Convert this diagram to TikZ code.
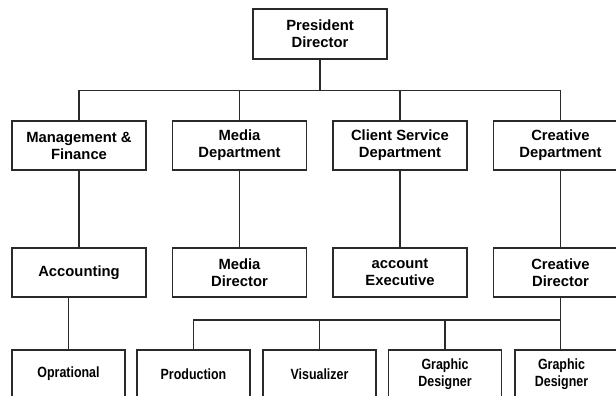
\documentclass[tikz,border=0pt]{standalone}
\usepackage{fontspec}
\setmainfont{Liberation Sans}
\newfontfamily\narrowsans[FakeStretch=0.84]{Liberation Sans}
\usetikzlibrary{positioning}
\definecolor{orgline}{HTML}{2A2A2A}

\begin{document}
\begin{tikzpicture}[x=1pt, y=-1pt,
  unit/.style={draw=orgline,line width=1.6pt,fill=white,minimum width=134pt,minimum height=49pt,align=center,inner sep=2pt,font=\fontsize{14.8}{17}\selectfont\bfseries},
  staff/.style={unit,minimum width=113pt,minimum height=48pt,font=\narrowsans\fontsize{14.8}{17.5}\selectfont\bfseries},
  link/.style={draw=orgline,line width=1.6pt}
]
\useasboundingbox (0,0) rectangle (616,396);
\clip (0,0) rectangle (616,396);

% top
\node[unit,minimum height=50pt] (pres) at (320,34) {President\\Director};

% departments
\node[unit] (mf) at (79,145.5) {Management \&\\Finance};
\node[unit] (md) at (239.5,145.5) {Media\\Department};
\node[unit] (cs) at (400,145.5) {Client Service\\Department};
\node[unit] (cd) at (560.5,145.5) {Creative\\Department};

% heads
\node[unit] (acc) at (79,272.5) {Accounting};
\node[unit] (mdir) at (239.5,272.5) {Media\\Director};
\node[unit] (ae) at (400,272.5) {account\\Executive};
\node[unit] (cdir) at (560.5,272.5) {Creative\\Director};

% staff
\node[staff] (opr) at (68.5,374) {Oprational};
\node[staff] (prod) at (193.5,374) {Production};
\node[staff] (vis) at (319.5,374) {Visualizer};
\node[staff] (gd1) at (445,374) {Graphic\\Designer};
\node[staff] (gd2) at (571.5,374) {Graphic\hspace*{20pt}\\Designer\hspace*{20pt}};

\coordinate (bus1) at (0,90.5);
\coordinate (bus2) at (0,320);

\draw[link] (pres.south) -- (pres.south |- bus1);
\draw[link] (mf.north) -- (mf.north |- bus1) -- (cd.north |- bus1) -- (cd.north);
\draw[link] (md.north) -- (md.north |- bus1);
\draw[link] (cs.north) -- (cs.north |- bus1);

\draw[link] (mf.south) -- (acc.north);
\draw[link] (md.south) -- (mdir.north);
\draw[link] (cs.south) -- (ae.north);
\draw[link] (cd.south) -- (cdir.north);

\draw[link] (opr.north) -- (opr.north |- acc.south);
\draw[link] (cdir.south) -- (cdir.south |- gd2.north);
\draw[link] (prod.north) -- (prod.north |- bus2) -- (cdir.south |- bus2);
\draw[link] (vis.north) -- (vis.north |- bus2);
\draw[link] (gd1.north) -- (gd1.north |- bus2);
\end{tikzpicture}
\end{document}
